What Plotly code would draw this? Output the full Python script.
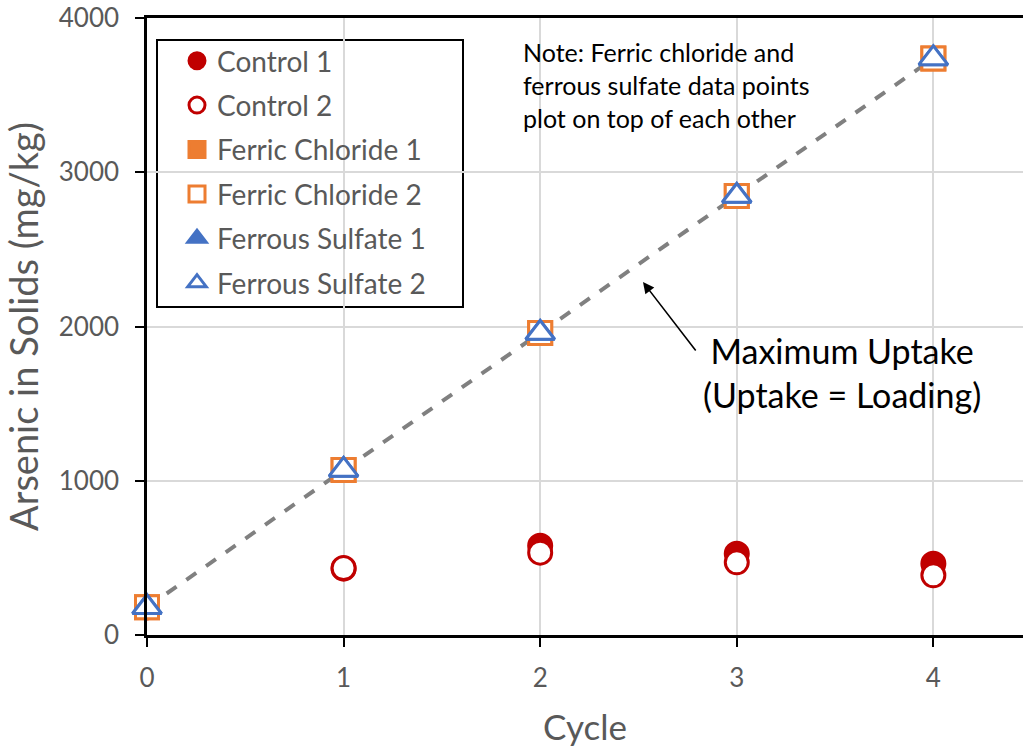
import plotly.graph_objects as go

cycles = [0, 1, 2, 3, 4]
control_1 = [180, 430, 579, 527, 462]
control_2 = [180, 434, 534, 471, 387]
ferric_chloride_1 = [180, 1070, 1958, 2846, 3738]
ferric_chloride_2 = [180, 1070, 1958, 2846, 3738]
ferrous_sulfate_1 = [180, 1070, 1958, 2846, 3738]
ferrous_sulfate_2 = [180, 1070, 1958, 2846, 3738]
max_uptake_x = [0, 4]
max_uptake_y = [180, 3738]

RED = "#C00000"
ORANGE = "#ED7D31"
BLUE = "#4472C4"
FONT = "Lato"
GREY_TXT = "#595959"

fig = go.Figure()
fig.add_trace(go.Scatter(x=max_uptake_x, y=max_uptake_y, mode="lines",
                         line=dict(color="#808080", width=4, dash="dash"),
                         showlegend=False, hoverinfo="skip"))

series = [
    ("Control 1", control_1, "circle", RED, RED, 23),
    ("Control 2", control_2, "circle", "white", RED, 23),
    ("Ferric Chloride 1", ferric_chloride_1, "square", ORANGE, ORANGE, 23),
    ("Ferric Chloride 2", ferric_chloride_2, "square", "white", ORANGE, 23),
    ("Ferrous Sulfate 1", ferrous_sulfate_1, "triangle-up", BLUE, BLUE, 25),
    ("Ferrous Sulfate 2", ferrous_sulfate_2, "triangle-up", "white", BLUE, 25),
]
for i, (name, vals, sym, fill, line, size) in enumerate(series):
    fig.add_trace(go.Scatter(
        x=cycles, y=vals, mode="markers", name=name, legendgroup=f"g{i}",
        cliponaxis=False,
        marker=dict(symbol=sym, size=size, color=fill, line=dict(color=line, width=3)),
    ))

# legend frame (white box covering the grid)
fig.add_shape(type="rect", xref="paper", yref="paper",
              x0=(157 - 147) / 876, x1=(463 - 147) / 876,
              y0=(635 - 307) / 617, y1=(635 - 40) / 617,
              line=dict(color="black", width=2), fillcolor="white", layer="between")

fig.add_annotation(x=2.523, y=2288, ax=2.797, ay=1835, axref="x", ayref="y",
                   xref="x", yref="y", text="", showarrow=True,
                   arrowhead=2, arrowsize=1.4, arrowwidth=1.6, arrowcolor="black")
fig.add_annotation(x=3.535, y=1700, xref="x", yref="y",
                   text="Maximum Uptake<br>(Uptake = Loading)", showarrow=False,
                   font=dict(family=FONT, size=34, color="black"), align="center")
note_lines = ["Note: Ferric chloride and", "ferrous sulfate data points", "plot on top of each other"]
for k, line in enumerate(note_lines):
    fig.add_annotation(x=1.9, y=3780 - k * 214, xref="x", yref="y", text=line,
                       showarrow=False, xanchor="left", yanchor="middle",
                       font=dict(family=FONT, size=25, color="black"))

axis_common = dict(
    showline=True, linecolor="black", linewidth=2.5,
    ticks="outside", ticklen=9, tickwidth=2, tickcolor="black",
    showgrid=True, gridcolor="#D9D9D9", gridwidth=2, zeroline=False,
    tickfont=dict(family=FONT, size=26, color=GREY_TXT),
)
fig.update_xaxes(range=[0, 4.456], tickvals=cycles, mirror=True,
                 title=dict(text="Cycle", font=dict(family=FONT, size=35, color=GREY_TXT), standoff=24),
                 ticklabelstandoff=9, **axis_common)
fig.update_yaxes(range=[0, 4000], tickvals=[0, 1000, 2000, 3000, 4000],
                 title=dict(text="Arsenic in Solids (mg/kg)", font=dict(family=FONT, size=38, color=GREY_TXT), standoff=14),
                 ticklabelstandoff=11, **axis_common)

fig.update_layout(
    width=1023, height=752,
    margin=dict(l=147, r=0, t=18, b=117),
    plot_bgcolor="white", paper_bgcolor="white",
    legend=dict(x=(177 - 147) / 876, y=(635 - 36) / 617, xanchor="left", yanchor="top",
                borderwidth=0, bgcolor="rgba(0,0,0,0)",
                font=dict(family=FONT, size=28, color=GREY_TXT),
                tracegroupgap=5, traceorder="grouped"),
    font=dict(family=FONT),
)

fig.write_html("out.html")
